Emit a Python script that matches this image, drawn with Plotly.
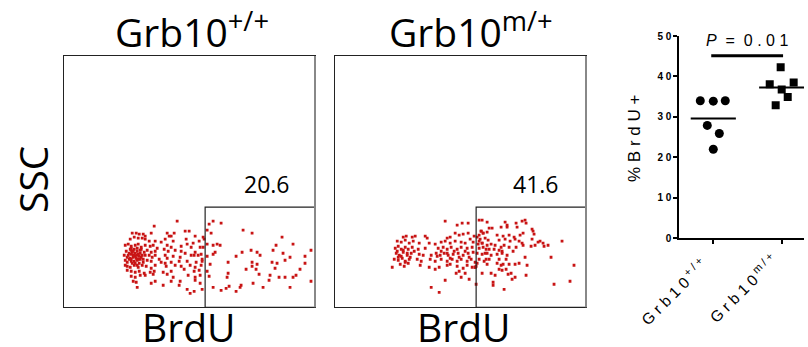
import plotly.graph_objects as go

# ---------------- data ----------------
# Flow panel 1 (Grb10 +/+): BrdU (x) vs SSC (y), arbitrary channel units
wt_brdu = [113, 90, 121, 125, 68, 72, 75, 79, 87, 103, 105, 107, 110, 81,
           66, 70, 74, 78, 81, 85, 91, 97, 101, 109, 122, 131, 129, 135, 139,
           61, 64, 67, 71, 74, 77, 81, 86, 89, 93, 103, 107, 117, 123, 127, 136,
           62, 67, 70, 73, 76, 80, 83, 87, 91, 100, 104, 111, 117, 121, 131, 134,
           60, 64, 67, 69, 71, 74, 77, 81, 85, 88, 91, 95, 101, 103, 109, 116, 127, 130, 137,
           61, 65, 67, 70, 73, 76, 79, 83, 87, 97, 101, 107, 115, 123, 132, 138,
           61, 63, 66, 70, 74, 78, 82, 87, 91, 102, 111, 117, 126, 131, 137,
           63, 67, 71, 75, 80, 86, 90, 99, 107, 120, 130, 135,
           67, 71, 76, 81, 89, 103, 109, 124, 131, 136,
           69, 72, 87, 91, 107, 116, 131, 136,
           73, 99, 115, 123, 126, 130,
           66, 68, 71, 73, 75, 69, 72, 66, 76, 78, 63, 68, 71, 75, 69, 73, 77, 65, 63, 79,
           67, 70, 74, 67, 73,
           149, 145, 157, 143, 147, 179, 188, 218, 140, 143, 149, 153, 156, 212, 229,
           139, 178, 187, 193, 209, 219, 151, 149, 172, 196, 226, 241, 247, 143, 221,
           138, 164, 188, 208, 213, 241, 146, 193, 188, 182, 192, 211, 143, 236, 164,
           195, 232, 163, 206, 229, 145, 215, 221, 205, 247, 189, 177, 176, 165, 162,
           199, 226, 149, 157, 172, 138]
wt_ssc = [86, 81, 76, 76, 74, 74, 73, 73, 74, 74, 71, 71, 74, 71,
          68, 70, 69, 69, 68, 66, 66, 65, 68, 66, 68, 71, 64, 66, 70,
          62, 63, 61, 62, 63, 60, 62, 61, 62, 59, 62, 60, 61, 63, 60, 60,
          56, 57, 58, 56, 57, 55, 57, 55, 56, 58, 56, 57, 56, 54, 55, 52,
          52, 52, 53, 52, 51, 53, 50, 52, 52, 50, 52, 48, 52, 49, 51, 50, 52, 52, 53,
          47, 48, 48, 46, 47, 48, 45, 47, 46, 45, 44, 45, 46, 46, 45, 48,
          42, 41, 40, 42, 40, 42, 41, 39, 42, 41, 42, 41, 42, 40, 42,
          37, 36, 35, 36, 34, 35, 36, 35, 36, 38, 36, 37,
          31, 30, 32, 32, 33, 33, 30, 32, 30, 32,
          26, 25, 24, 26, 26, 26, 27, 24,
          20, 22, 22, 18, 14, 16,
          58, 55, 54, 52, 51, 50, 49, 49, 54, 52, 45, 44, 44, 44, 56, 59, 58, 54, 50, 48,
          59, 52, 48, 46, 42,
          86, 83, 84, 77, 74, 77, 74, 70, 68, 63, 62, 63, 62, 62, 63,
          60, 55, 57, 55, 57, 54, 55, 53, 51, 52, 50, 51, 57, 51, 47,
          46, 45, 45, 45, 44, 44, 43, 43, 41, 38, 38, 39, 36, 38, 34,
          33, 32, 30, 32, 30, 31, 30, 30, 27, 26, 24, 22, 20, 21, 19,
          20, 20, 20, 17, 16, 18]

# Flow panel 2 (Grb10 m/+)
mut_brdu = [110, 122, 127, 133,
            68, 71, 77, 80, 90, 92, 112, 115, 120, 124, 128, 133, 139,
            62, 66, 70, 74, 78, 84, 94, 100, 106, 110, 115, 120, 126, 130, 135, 138,
            60, 63, 66, 70, 73, 77, 83, 90, 103, 108, 112, 116, 122, 126, 132, 137,
            61, 64, 68, 72, 76, 79, 84, 88, 96, 101, 105, 109, 113, 118, 123, 128, 133, 138,
            59, 63, 67, 70, 74, 82, 86, 95, 100, 106, 112, 117, 122, 126, 132, 136, 140,
            57, 65, 69, 73, 85, 94, 100, 104, 112, 115, 122, 128, 132, 137,
            121, 124, 130, 126, 134, 110, 96, 104,
            62, 68, 66, 72, 75, 63, 70, 112, 115, 119, 124, 130, 134, 106, 102,
            144, 148, 147, 151, 146, 150, 149, 141, 144, 140,
            144, 147, 152, 170, 172, 181, 187, 190, 191,
            154, 157, 166, 172, 182, 197, 198,
            146, 148, 152, 162, 168, 174, 179, 185, 188, 199,
            142, 145, 150, 153, 164, 170, 175, 180, 184, 187, 197, 203, 205, 208, 227,
            143, 147, 152, 156, 160, 166, 169, 174, 181, 188, 196, 200, 209, 213,
            144, 148, 154, 159, 164, 167, 178,
            142, 147, 152, 156, 162, 167, 172, 190, 216,
            144, 151, 154, 164, 171, 142, 152, 162, 166, 168, 174, 180, 184, 192, 239,
            140, 164, 167, 171,
            147, 156, 160, 173, 176, 191, 180, 177,
            158, 158, 219, 235, 169, 141]
mut_ssc = [86, 82, 84, 84,
           70, 71, 70, 71, 71, 69, 69, 70, 74, 72, 73, 74, 71,
           66, 65, 67, 64, 66, 64, 64, 63, 65, 66, 64, 66, 65, 64, 68, 65,
           59, 61, 58, 60, 58, 60, 58, 59, 59, 60, 58, 60, 58, 60, 59, 60,
           54, 52, 55, 52, 54, 56, 53, 52, 52, 54, 52, 54, 52, 53, 54, 52, 54, 55,
           48, 47, 49, 46, 48, 48, 46, 48, 46, 48, 46, 48, 46, 48, 46, 48, 45,
           40, 43, 41, 44, 42, 40, 38, 40, 42, 43, 41, 39, 42, 40,
           34, 36, 34, 30, 28, 27, 20, 15,
           56, 57, 51, 54, 50, 50, 45, 54, 49, 56, 50, 56, 50, 56, 51,
           72, 74, 64, 58, 76, 54, 46, 41, 66, 40,
           87, 87, 85, 85, 82, 84, 86, 87, 84,
           79, 79, 80, 80, 80, 78, 76,
           76, 74, 75, 72, 71, 72, 70, 72, 74, 73,
           70, 68, 69, 67, 67, 68, 66, 68, 66, 64, 68, 65, 66, 64, 66,
           63, 64, 62, 63, 62, 60, 62, 60, 60, 62, 61, 62, 61, 62,
           59, 60, 58, 58, 57, 56, 56,
           54, 53, 54, 52, 53, 54, 52, 50, 50,
           48, 48, 48, 48, 48, 44, 43, 44, 42, 43, 43, 43, 44, 42, 42,
           40, 38, 37, 38,
           34, 34, 32, 33, 34, 32, 30, 28,
           25, 22, 23, 26, 18, 23]

gate_pct = ["20.6", "41.6"]
panel_titles = ["Grb10<sup>+/+</sup>", "Grb10<sup>m/+</sup>"]

# Dot plot (% BrdU+)
wt_pct = [34.0, 33.9, 34.0, 27.9, 25.9, 22.0]
mut_pct = [42.3, 38.1, 38.5, 36.8, 34.9, 32.9]
wt_jitter = [-0.19, 0.0, 0.175, -0.088, 0.088, 0.0]
mut_jitter = [-0.015, -0.175, 0.175, 0.0, 0.088, -0.088]
group_labels = ["G r b 1 0<sup>\u00a0+ / +</sup>", "G r b 1 0<sup>\u00a0m / +</sup>"]
y_ticks = [0, 10, 20, 30, 40, 50]
y_ticktext = ["0", "1 0", "2 0", "3 0", "4 0", "5 0"]
p_text = "<i>P</i>\u00a0\u00a0=\u00a0\u00a00 . 0 1"

# ---------------- figure ----------------
W, H = 808, 347
def px(x):
    return x / W
def py(y):
    return 1 - y / H

FLOW_FONT = "Open Sans"
ARIAL = "Liberation Sans, Arial"
dot_color = "#c81414"

fig = go.Figure()

fig.add_trace(go.Scatter(x=wt_brdu, y=wt_ssc, mode="markers", xaxis="x", yaxis="y",
                         marker=dict(symbol="square", size=2.8, color=dot_color),
                         showlegend=False, hoverinfo="skip"))
fig.add_trace(go.Scatter(x=mut_brdu, y=mut_ssc, mode="markers", xaxis="x2", yaxis="y2",
                         marker=dict(symbol="square", size=2.8, color=dot_color),
                         showlegend=False, hoverinfo="skip"))

# dot plot
wt_x = [0 + j for j in wt_jitter]
mut_x = [1 + j for j in mut_jitter]
fig.add_trace(go.Scatter(x=wt_x, y=wt_pct, mode="markers", xaxis="x3", yaxis="y3",
                         marker=dict(symbol="circle", size=9, color="black"),
                         showlegend=False))
fig.add_trace(go.Scatter(x=mut_x, y=mut_pct, mode="markers", xaxis="x3", yaxis="y3",
                         marker=dict(symbol="square", size=8, color="black"),
                         showlegend=False))
wt_mean = sum(wt_pct) / len(wt_pct)
mut_mean = sum(mut_pct) / len(mut_pct)
fig.add_trace(go.Scatter(x=[-0.33, 0.33], y=[wt_mean, wt_mean], mode="lines",
                         xaxis="x3", yaxis="y3", line=dict(color="black", width=2),
                         showlegend=False))
fig.add_trace(go.Scatter(x=[0.67, 1.33], y=[mut_mean, mut_mean], mode="lines",
                         xaxis="x3", yaxis="y3", line=dict(color="black", width=2),
                         showlegend=False))
fig.add_trace(go.Scatter(x=[-0.03, 1.02], y=[45.1, 45.1], mode="lines",
                         xaxis="x3", yaxis="y3", line=dict(color="black", width=3),
                         showlegend=False))

flow_ax = dict(range=[0, 251], showgrid=False, zeroline=False, showticklabels=False,
               ticks="", showline=True, linecolor="#222", linewidth=1, mirror=True,
               fixedrange=True, automargin=False)

p1x = [px(64.3), px(315)]
p2x = [px(335.3), px(586)]
py_dom = [py(307.3), py(56)]

fig.update_layout(
    width=W, height=H, margin=dict(l=0, r=0, t=0, b=0, autoexpand=False),
    paper_bgcolor="white", plot_bgcolor="white",
    xaxis=dict(flow_ax, domain=p1x, anchor="y"),
    yaxis=dict(flow_ax, domain=py_dom, anchor="x"),
    xaxis2=dict(flow_ax, domain=p2x, anchor="y2"),
    yaxis2=dict(flow_ax, domain=py_dom, anchor="x2"),
    xaxis3=dict(domain=[px(679.3), px(804)], anchor="y3", range=[-0.497, 1.326],
                automargin=False, showticklabels=False,
                showgrid=False, zeroline=False, showline=True, linecolor="black",
                linewidth=2, ticks="outside", ticklen=4, tickwidth=2, tickcolor="black",
                tickvals=[0, 1]),
    yaxis3=dict(domain=[py(238.3), py(36)], anchor="x3", range=[0, 50],
                automargin=False,
                showgrid=False, zeroline=False, showline=True, linecolor="black",
                linewidth=2, ticks="outside", ticklen=4, tickwidth=2, tickcolor="black",
                tickvals=y_ticks, ticktext=y_ticktext,
                tickfont=dict(family=ARIAL, size=10, color="black", weight="bold")),
)

shapes = []
for xr, yr in (("x", "y"), ("x2", "y2")):
    shapes.append(dict(type="rect", xref=xr, yref=yr, x0=141, x1=251, y0=0, y1=100,
                       line=dict(color="#222", width=1.2)))
    shapes.append(dict(type="line", xref=xr + " domain", yref=yr + " domain",
                       x0=1, x1=1, y0=0, y1=1, line=dict(color="#888", width=2)))
fig.update_layout(shapes=shapes)

ann = []
title_x = [px(192), px(471)]
brdu_x = [px(188), px(464)]
pct_x = [px(267), px(536)]
for i in range(2):
    ann.append(dict(text=panel_titles[i], x=title_x[i], y=py(30), xref="paper", yref="paper",
                    showarrow=False, xanchor="center", yanchor="middle",
                    font=dict(family=FLOW_FONT, size=39, color="black")))
    ann.append(dict(text="BrdU", x=brdu_x[i], y=0, xref="paper", yref="paper",
                    showarrow=False, xanchor="center", yanchor="bottom", yshift=-8,
                    font=dict(family=FLOW_FONT, size=39, color="black")))
    ann.append(dict(text=gate_pct[i], x=pct_x[i], y=py(184), xref="paper", yref="paper",
                    showarrow=False, xanchor="center", yanchor="middle",
                    font=dict(family=FLOW_FONT, size=23, color="black")))
ann.append(dict(text="SSC", x=px(32), y=py(180), xref="paper", yref="paper",
                showarrow=False, textangle=-90, xanchor="center", yanchor="middle",
                font=dict(family=FLOW_FONT, size=39, color="black")))
ann.append(dict(text="% B r d U +", x=px(635), y=py(139), xref="paper", yref="paper",
                showarrow=False, textangle=-90, xanchor="center", yanchor="middle",
                font=dict(family=ARIAL, size=17, color="black")))
ann.append(dict(text=p_text, x=0.49, y=48.8, xref="x3", yref="y3",
                showarrow=False, xanchor="center", yanchor="middle",
                font=dict(family=ARIAL, size=16, color="black")))
label_pos = [(713, 252), (784, 247)]
for (lx, ly), lab in zip(label_pos, group_labels):
    ann.append(dict(text=lab, x=px(lx), y=py(ly), xref="paper", yref="paper",
                    showarrow=False, textangle=-45, xanchor="right", yanchor="top",
                    font=dict(family=ARIAL, size=15.5, color="black")))
fig.update_layout(annotations=ann)

fig.write_html("out.html")
